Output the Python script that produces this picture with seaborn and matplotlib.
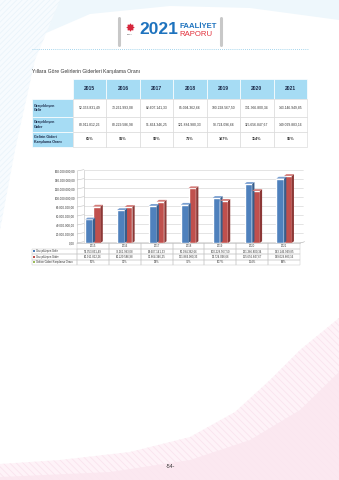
import matplotlib
matplotlib.use('Agg')
import matplotlib.pyplot as plt
import seaborn as sns
import pandas as pd
import numpy as np
from matplotlib.patches import Rectangle, Polygon, Ellipse

# ---------------- data ----------------
years = ['2015', '2016', '2017', '2018', '2019', '2020', '2021']
gelir = [52353831.49, 73261993.08, 82607141.33, 85094362.66,
         100228567.50, 131366800.34, 143146949.85]
gider = [80911812.26, 80229586.98, 91864346.25, 121884980.33,
         93724096.66, 115656847.67, 149029883.16]
oran = ['65%', '91%', '90%', '71%', '107%', '114%', '96%']
series = ['Gerçekleşen Gelir', 'Gerçekleşen Gider']
top_labels = ['Gerçekleşen\nGelir', 'Gerçekleşen\nGider', 'Gelirin Gideri\nKarşılama Oranı']
bottom_labels = ['Gerçekleşen Gelir', 'Gerçekleşen Gider', 'Gelirin Gideri Karşılama Oranı']
yticks = [0, 20e6, 40e6, 60e6, 80e6, 100e6, 120e6, 140e6, 160e6]
title = 'Yıllara Göre Gelirlerin Giderleri Karşılama Oranı'
page_no = '-54-'

BLUE = '#4F81BD'
RED = '#C0504D'
BLUE_D = '#385D8A'
RED_D = '#8C3836'
BLUE_L = '#7A9FD0'
RED_L = '#D47D7A'
HDR = '#A6DCF4'
NAVY = '#1C2B4A'


def tr(v):
    s = f"{v:,.2f}"
    return s.replace(',', 'X').replace('.', ',').replace('X', '.')


sns.set_theme(style='white')
plt.rcParams['font.family'] = ['Liberation Sans', 'DejaVu Sans']
plt.rcParams['hatch.linewidth'] = 0.5

W, H = 339, 480
fig = plt.figure(figsize=(W / 100, H / 100), dpi=100)
fig.patch.set_facecolor('white')

bg = fig.add_axes([0, 0, 1, 1], zorder=0)
bg.set_xlim(0, W)
bg.set_ylim(H, 0)
bg.axis('off')

# ---------- background decorations ----------
bg.add_patch(Polygon([(0, 0), (339, 0), (339, 20), (250, 8), (170, 6), (90, 14), (30, 40), (0, 70)],
                     closed=True, facecolor='#EEF7FC', edgecolor='none', zorder=0))
bg.add_patch(Polygon([(0, 0), (60, 0), (35, 60), (15, 150), (0, 230)],
                     closed=True, facecolor='#F7FBFE', edgecolor='#E8F3FA', hatch='//////', lw=0, zorder=0))
bg.add_patch(Polygon([(339, 318), (300, 350), (270, 380), (235, 412), (190, 437), (130, 452), (60, 460),
                      (0, 464), (0, 480), (339, 480)],
                     closed=True, facecolor='#FEF3F8', edgecolor='#F9E1EC', hatch='\\\\\\\\\\', lw=0, zorder=0))
bg.add_patch(Polygon([(339, 372), (300, 410), (250, 440), (190, 460), (110, 472), (0, 477),
                      (0, 480), (339, 480)],
                     closed=True, facecolor='#FBE6EF', edgecolor='none', zorder=0, alpha=0.8))

# ---------- header logo ----------
bg.plot([118.5, 118.5], [18, 45], color='#C8C8C8', lw=2.2, solid_capstyle='round')
bg.plot([220.5, 220.5], [18, 45], color='#C8C8C8', lw=2.2, solid_capstyle='round')
bg.scatter([129.5], [27], s=22, marker=(8, 1, 0), color='#D6263C', zorder=3)
bg.text(129.5, 34.5, 'KIBRIS', fontsize=1.3, color='#555555', ha='center', va='center')
bg.text(158.5, 30, '2021', fontsize=12.5, fontweight='bold', color='#1E73BE',
        ha='center', va='center')
bg.text(179, 26.5, 'FAALİYET', fontsize=5.6, fontweight='bold', color='#1E73BE',
        ha='left', va='center')
bg.text(179, 34, 'RAPORU', fontsize=5.6, color='#E2313C', ha='left', va='center')
bg.plot([32, 308], [49, 49], color='#86C7E6', lw=0.6, ls=(0, (1, 1.5)))

bg.text(32, 72, title, fontsize=3.6, color='#333333', ha='left', va='center')

# ---------- top table ----------
tx0, lab_w = 32, 41
col_w = (307 - 73) / 7
rows = [(79, 99), (99, 117), (117, 132), (132, 147)]
for j, y in enumerate(years):
    x = tx0 + lab_w + j * col_w
    bg.add_patch(Rectangle((x, rows[0][0]), col_w, rows[0][1] - rows[0][0],
                           facecolor=HDR, edgecolor='white', lw=0.5, zorder=2))
    bg.text(x + col_w / 2, (rows[0][0] + rows[0][1]) / 2, y, fontsize=3.6,
            fontweight='bold', color=NAVY, ha='center', va='center', zorder=3)
cell_vals = [[tr(v) for v in gelir], [tr(v) for v in gider], oran]
for i in range(3):
    y0, y1 = rows[i + 1]
    bg.add_patch(Rectangle((tx0, y0), lab_w, y1 - y0, facecolor=HDR,
                           edgecolor='white', lw=0.5, zorder=2))
    bg.text(tx0 + 1.5, (y0 + y1) / 2, top_labels[i], fontsize=2.6, fontweight='bold',
            color=NAVY, ha='left', va='center', linespacing=1.1, zorder=3)
    for j in range(7):
        x = tx0 + lab_w + j * col_w
        bg.add_patch(Rectangle((x, y0), col_w, y1 - y0, facecolor='white',
                               edgecolor='#D5D5D5', lw=0.4, zorder=2))
        bg.text(x + col_w / 2, (y0 + y1) / 2, cell_vals[i][j],
                fontsize=2.7 if i == 2 else 2.45,
                fontweight='bold' if i == 2 else 'normal',
                color='#333333', ha='center', va='center', zorder=3)

# ---------- bar chart ----------
ax_l, ax_r, ax_b, ax_t = 77, 300, 243, 171
ax = fig.add_axes([ax_l / W, (H - ax_b) / H, (ax_r - ax_l) / W, (ax_b - ax_t) / H], zorder=2)
ax.set_facecolor('none')

df = pd.DataFrame({
    'year': years * 2,
    'value': gelir + gider,
    'series': [series[0]] * 7 + [series[1]] * 7,
})
sns.barplot(data=df, x='year', y='value', hue='series', hue_order=series,
            palette=[BLUE, RED], width=0.48, saturation=1, legend=False,
            ax=ax, zorder=3)
ax.set_xlim(-0.5, 6.5)
ax.set_ylim(0, 160e6)

# pseudo-3D depth on each seaborn bar
dx, dy = 0.07, 4.0e6
for p in list(ax.patches):
    x0 = p.get_x()
    x1 = x0 + p.get_width()
    h = p.get_height()
    fc = p.get_facecolor()
    is_blue = abs(fc[2] - 0.74) < 0.05
    side = BLUE_D if is_blue else RED_D
    top = BLUE_L if is_blue else RED_L
    ax.add_patch(Polygon([(x1, 0), (x1 + dx, dy), (x1 + dx, h + dy), (x1, h)],
                         closed=True, facecolor=side, edgecolor='none', zorder=3))
    ax.add_patch(Polygon([(x0, h), (x0 + dx, h + dy), (x1 + dx, h + dy), (x1, h)],
                         closed=True, facecolor=top, edgecolor='none', zorder=3))

# back-wall gridlines with a slight perspective
wx, wy = 0.22, 3.0e6
for v in yticks:
    ax.plot([-0.5, -0.5 + wx], [v, v + wy], color='#BFBFBF', lw=0.4, clip_on=False, zorder=1)
    ax.plot([-0.5 + wx, 6.5 + 0.1], [v + wy, v + wy], color='#D0D0D0', lw=0.4,
            clip_on=False, zorder=1)
ax.plot([-0.5 + wx, -0.5 + wx], [wy, 160e6 + wy], color='#BFBFBF', lw=0.4, clip_on=False, zorder=1)
ax.plot([6.5, 6.5 + 0.15], [0, wy], color='#BFBFBF', lw=0.4, clip_on=False, zorder=1)

ax.set_yticks(yticks)
ax.set_yticklabels([tr(v) for v in yticks], fontsize=2.2, color='#333333')
ax.set_xticks([])
ax.set_xlabel('')
ax.set_ylabel('')
ax.tick_params(axis='y', length=0, pad=1.5)
for s in ['top', 'right']:
    ax.spines[s].set_visible(False)
ax.spines['left'].set_color('#BFBFBF')
ax.spines['left'].set_linewidth(0.4)
ax.spines['bottom'].set_color('#BFBFBF')
ax.spines['bottom'].set_linewidth(0.4)

# ---------- data table under chart ----------
dcol = (ax_r - ax_l) / 7
drows = [(243, 248.5), (248.5, 254), (254, 259.5), (259.5, 265)]
for j, y in enumerate(years):
    x = ax_l + j * dcol
    bg.add_patch(Rectangle((x, drows[0][0]), dcol, drows[0][1] - drows[0][0],
                           facecolor='none', edgecolor='#C8C8C8', lw=0.35, zorder=2))
    bg.text(x + dcol / 2, sum(drows[0]) / 2, y, fontsize=2.0, color='#333333',
            ha='center', va='center', zorder=3)
dvals = [[tr(v) for v in gelir], [tr(v) for v in gider], oran]
mk = [BLUE, RED, '#9BBB59']
for i in range(3):
    y0, y1 = drows[i + 1]
    bg.add_patch(Rectangle((32, y0), ax_l - 32, y1 - y0, facecolor='none',
                           edgecolor='#C8C8C8', lw=0.35, zorder=2))
    bg.add_patch(Rectangle((33, (y0 + y1) / 2 - 1), 2, 2, facecolor=mk[i],
                           edgecolor='none', zorder=3))
    bg.text(36, (y0 + y1) / 2, bottom_labels[i], fontsize=2.0, color='#333333',
            ha='left', va='center', zorder=3)
    for j in range(7):
        x = ax_l + j * dcol
        bg.add_patch(Rectangle((x, y0), dcol, y1 - y0, facecolor='none',
                               edgecolor='#C8C8C8', lw=0.35, zorder=2))
        bg.text(x + dcol / 2, (y0 + y1) / 2, dvals[i][j], fontsize=2.0,
                color='#333333', ha='center', va='center', zorder=3)

bg.text(170, 467, page_no, fontsize=3.8, color='#333333', ha='center', va='center')

fig.savefig('out.png', dpi=100, facecolor='white')
